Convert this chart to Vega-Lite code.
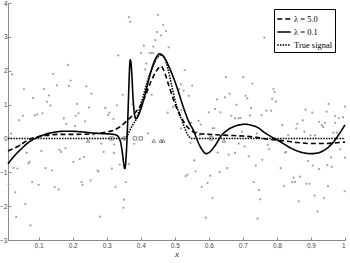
{
  "$schema": "https://vega.github.io/schema/vega-lite/v6.json",
  "width": 337,
  "height": 237,
  "autosize": "none",
  "padding": {"left": 8, "top": 3, "right": 5, "bottom": 23},
  "background": "white",
  "config": {"view": {"stroke": null}},
  "datasets": {
    "noisy": [
      {"x":0.022,"y":1.89},{"x":0.043,"y":0.54},{"x":0.054,"y":0.67},{"x":0.057,"y":1.46},{"x":0.084,"y":1.19},{"x":0.089,"y":0.68},{"x":0.096,"y":0.71},{"x":0.111,"y":0.74},{"x":0.116,"y":1.46},{"x":0.124,"y":1.08},{"x":0.130,"y":1.27},{"x":0.135,"y":0.97},{"x":0.143,"y":1.91},{"x":0.154,"y":1.57},{"x":0.174,"y":0.59},{"x":0.186,"y":2.17},{"x":0.189,"y":1.55},{"x":0.194,"y":1.71},{"x":0.181,"y":0.43},{"x":0.207,"y":0.37},{"x":0.209,"y":0.67},{"x":0.213,"y":1.02},{"x":0.217,"y":0.74},{"x":0.240,"y":1.54},{"x":0.248,"y":0.91},{"x":0.255,"y":1.32},{"x":0.236,"y":0.50},
      {"x":0.019,"y":0.14},{"x":0.127,"y":0.07},{"x":0.046,"y":-0.18},{"x":0.065,"y":-0.43},{"x":0.108,"y":-0.37},{"x":0.161,"y":-0.34},{"x":0.166,"y":-0.40},{"x":0.179,"y":-0.29},{"x":0.070,"y":-0.74},{"x":0.073,"y":-0.69},{"x":0.026,"y":-0.87},{"x":0.038,"y":-0.89},{"x":0.120,"y":-0.88},{"x":0.139,"y":-0.94},{"x":0.202,"y":-0.69},{"x":0.221,"y":-0.61},{"x":0.233,"y":-0.55},{"x":0.012,"y":-1.36},{"x":0.081,"y":-1.29},{"x":0.100,"y":-1.37},{"x":0.147,"y":-1.44},{"x":0.159,"y":-1.51},{"x":0.226,"y":-1.29},{"x":0.229,"y":-1.37},{"x":0.253,"y":-1.24},{"x":0.031,"y":-1.59},{"x":0.061,"y":-1.93},{"x":0.034,"y":-2.32},{"x":0.076,"y":-2.57},
      {"x":0.261,"y":0.11},{"x":0.273,"y":-0.95},{"x":0.276,"y":-0.98},{"x":0.280,"y":-2.31},{"x":0.291,"y":-0.40},{"x":0.284,"y":-0.15},{"x":0.296,"y":0.90},{"x":0.304,"y":0.69},{"x":0.308,"y":0.76},{"x":0.320,"y":0.58},{"x":0.330,"y":0.98},{"x":0.334,"y":2.45},{"x":0.347,"y":1.29},{"x":0.365,"y":3.58},{"x":0.369,"y":3.44},{"x":0.376,"y":1.01},{"x":0.315,"y":-0.89},{"x":0.322,"y":-0.18},{"x":0.321,"y":-0.43},{"x":0.326,"y":-1.43},{"x":0.338,"y":-0.77},{"x":0.351,"y":-1.81},{"x":0.349,"y":-2.05},{"x":0.356,"y":-1.29},{"x":0.365,"y":-0.76},{"x":0.381,"y":-0.16},{"x":0.421,"y":0.15},
      {"x":0.401,"y":2.52},{"x":0.409,"y":2.74},{"x":0.413,"y":2.04},{"x":0.416,"y":2.21},{"x":0.426,"y":2.52},{"x":0.432,"y":2.52},{"x":0.437,"y":2.52},{"x":0.437,"y":2.71},{"x":0.443,"y":2.90},{"x":0.448,"y":3.14},{"x":0.451,"y":3.65},{"x":0.459,"y":3.04},{"x":0.466,"y":3.35},{"x":0.474,"y":3.17},{"x":0.482,"y":2.69},{"x":0.432,"y":1.29},{"x":0.479,"y":0.76},{"x":0.495,"y":0.93},
      {"x":0.513,"y":1.46},{"x":0.518,"y":1.60},{"x":0.526,"y":1.41},{"x":0.529,"y":2.02},{"x":0.541,"y":1.26},{"x":0.551,"y":1.56},{"x":0.519,"y":0.83},{"x":0.513,"y":0.71},{"x":0.600,"y":0.77},{"x":0.618,"y":0.87},{"x":0.624,"y":1.15},{"x":0.634,"y":0.77},{"x":0.647,"y":1.21},{"x":0.650,"y":1.81},{"x":0.661,"y":1.32},{"x":0.666,"y":0.67},{"x":0.677,"y":0.59},{"x":0.687,"y":0.59},{"x":0.693,"y":0.61},{"x":0.681,"y":0.99},{"x":0.701,"y":1.81},{"x":0.708,"y":1.26},{"x":0.713,"y":1.18},{"x":0.721,"y":0.68},{"x":0.724,"y":0.90},{"x":0.728,"y":1.62},{"x":0.755,"y":0.69},{"x":0.763,"y":2.98},{"x":0.769,"y":0.82},{"x":0.783,"y":0.82},{"x":0.790,"y":1.46},{"x":0.793,"y":1.37},{"x":0.786,"y":1.17},{"x":0.797,"y":1.09},{"x":0.816,"y":0.39},{"x":0.860,"y":0.43},{"x":0.884,"y":0.85},{"x":0.904,"y":0.76},{"x":0.924,"y":0.49},{"x":0.952,"y":1.02},{"x":0.946,"y":0.79},{"x":0.971,"y":0.66},{"x":0.982,"y":0.60},{"x":0.994,"y":0.62},{"x":1.0,"y":0.94},
      {"x":0.548,"y":0.46},{"x":0.570,"y":0.52},{"x":0.576,"y":0.41},{"x":0.611,"y":0.30},{"x":0.616,"y":0.30},{"x":0.518,"y":0.29},{"x":0.565,"y":0.19},{"x":0.546,"y":-0.13},{"x":0.573,"y":0.09},{"x":0.697,"y":0.20},{"x":0.741,"y":0.15},{"x":0.688,"y":-0.15},{"x":0.705,"y":-0.24},{"x":0.626,"y":-0.42},{"x":0.658,"y":-0.48},{"x":0.677,"y":-0.43},{"x":0.717,"y":-0.53},{"x":0.557,"y":-0.65},{"x":0.654,"y":-0.88},{"x":0.632,"y":-0.99},{"x":0.738,"y":-0.80},{"x":0.757,"y":-0.63},{"x":0.532,"y":-1.11},{"x":0.537,"y":-1.07},{"x":0.561,"y":-0.97},{"x":0.604,"y":-1.10},{"x":0.596,"y":-1.31},{"x":0.579,"y":-1.43},{"x":0.732,"y":-1.29},{"x":0.747,"y":-1.52},{"x":0.751,"y":-1.80},{"x":0.611,"y":-1.76},{"x":0.591,"y":-2.34},{"x":0.743,"y":-2.37},
      {"x":0.857,"y":0.30},{"x":0.876,"y":0.53},{"x":0.881,"y":0.20},{"x":0.932,"y":0.39},{"x":0.941,"y":0.46},{"x":0.936,"y":0.34},{"x":0.971,"y":0.46},{"x":0.966,"y":0.17},{"x":0.976,"y":0.17},{"x":0.899,"y":0.09},{"x":0.912,"y":0.09},{"x":0.833,"y":0.10},{"x":0.773,"y":-0.19},{"x":0.777,"y":-0.32},{"x":0.827,"y":-0.40},{"x":0.824,"y":-0.42},{"x":0.986,"y":-0.32},{"x":0.892,"y":-0.67},{"x":0.959,"y":-0.56},{"x":0.948,"y":-0.79},{"x":0.961,"y":-0.84},{"x":1.0,"y":-0.57},{"x":0.905,"y":-0.80},{"x":0.924,"y":-0.91},{"x":0.811,"y":-0.88},{"x":0.849,"y":-1.16},{"x":0.868,"y":-1.13},{"x":0.845,"y":-1.29},{"x":0.853,"y":-1.29},{"x":0.886,"y":-1.34},{"x":0.895,"y":-1.34},{"x":0.821,"y":-1.40},{"x":0.950,"y":-1.41},{"x":0.999,"y":-1.56},{"x":0.911,"y":-1.69},{"x":0.938,"y":-1.76},{"x":0.864,"y":-1.86},{"x":0.919,"y":-2.16}
    ],
    "curves": [
      {"s":"λ = 5.0","x":0.01,"y":-0.37},{"s":"λ = 5.0","x":0.04,"y":-0.23},{"s":"λ = 5.0","x":0.07,"y":-0.04},{"s":"λ = 5.0","x":0.11,"y":0.07},{"s":"λ = 5.0","x":0.16,"y":0.12},{"s":"λ = 5.0","x":0.21,"y":0.12},{"s":"λ = 5.0","x":0.26,"y":0.14},{"s":"λ = 5.0","x":0.30,"y":0.19},{"s":"λ = 5.0","x":0.32,"y":0.24},{"s":"λ = 5.0","x":0.34,"y":0.35},{"s":"λ = 5.0","x":0.355,"y":0.48},{"s":"λ = 5.0","x":0.37,"y":0.62},{"s":"λ = 5.0","x":0.385,"y":0.78},{"s":"λ = 5.0","x":0.40,"y":0.98},{"s":"λ = 5.0","x":0.415,"y":1.30},{"s":"λ = 5.0","x":0.43,"y":1.68},{"s":"λ = 5.0","x":0.445,"y":1.98},{"s":"λ = 5.0","x":0.46,"y":2.13},{"s":"λ = 5.0","x":0.47,"y":1.95},{"s":"λ = 5.0","x":0.48,"y":1.64},{"s":"λ = 5.0","x":0.49,"y":1.33},{"s":"λ = 5.0","x":0.50,"y":1.03},{"s":"λ = 5.0","x":0.51,"y":0.80},{"s":"λ = 5.0","x":0.52,"y":0.60},{"s":"λ = 5.0","x":0.535,"y":0.36},{"s":"λ = 5.0","x":0.55,"y":0.22},{"s":"λ = 5.0","x":0.565,"y":0.15},{"s":"λ = 5.0","x":0.60,"y":0.12},{"s":"λ = 5.0","x":0.66,"y":0.09},{"s":"λ = 5.0","x":0.70,"y":0.07},{"s":"λ = 5.0","x":0.74,"y":0.03},{"s":"λ = 5.0","x":0.78,"y":-0.03},{"s":"λ = 5.0","x":0.82,"y":-0.07},{"s":"λ = 5.0","x":0.86,"y":-0.12},{"s":"λ = 5.0","x":0.90,"y":-0.15},{"s":"λ = 5.0","x":0.94,"y":-0.15},{"s":"λ = 5.0","x":0.97,"y":-0.13},{"s":"λ = 5.0","x":1.0,"y":-0.11},
      {"s":"λ = 0.1","x":0.01,"y":-0.75},{"s":"λ = 0.1","x":0.03,"y":-0.50},{"s":"λ = 0.1","x":0.05,"y":-0.30},{"s":"λ = 0.1","x":0.07,"y":-0.12},{"s":"λ = 0.1","x":0.09,"y":0.0},{"s":"λ = 0.1","x":0.11,"y":0.09},{"s":"λ = 0.1","x":0.13,"y":0.15},{"s":"λ = 0.1","x":0.15,"y":0.19},{"s":"λ = 0.1","x":0.17,"y":0.21},{"s":"λ = 0.1","x":0.20,"y":0.21},{"s":"λ = 0.1","x":0.23,"y":0.19},{"s":"λ = 0.1","x":0.26,"y":0.16},{"s":"λ = 0.1","x":0.29,"y":0.14},{"s":"λ = 0.1","x":0.31,"y":0.13},{"s":"λ = 0.1","x":0.32,"y":0.12},{"s":"λ = 0.1","x":0.33,"y":0.09},{"s":"λ = 0.1","x":0.336,"y":0.02},{"s":"λ = 0.1","x":0.341,"y":-0.12},{"s":"λ = 0.1","x":0.346,"y":-0.42},{"s":"λ = 0.1","x":0.35,"y":-0.75},{"s":"λ = 0.1","x":0.353,"y":-0.89},{"s":"λ = 0.1","x":0.356,"y":-0.70},{"s":"λ = 0.1","x":0.359,"y":-0.15},{"s":"λ = 0.1","x":0.362,"y":0.60},{"s":"λ = 0.1","x":0.365,"y":1.50},{"s":"λ = 0.1","x":0.367,"y":2.05},{"s":"λ = 0.1","x":0.369,"y":2.32},{"s":"λ = 0.1","x":0.371,"y":2.25},{"s":"λ = 0.1","x":0.374,"y":1.85},{"s":"λ = 0.1","x":0.377,"y":1.25},{"s":"λ = 0.1","x":0.380,"y":0.85},{"s":"λ = 0.1","x":0.383,"y":0.64},{"s":"λ = 0.1","x":0.386,"y":0.58},{"s":"λ = 0.1","x":0.39,"y":0.62},{"s":"λ = 0.1","x":0.40,"y":0.86},{"s":"λ = 0.1","x":0.41,"y":1.20},{"s":"λ = 0.1","x":0.42,"y":1.60},{"s":"λ = 0.1","x":0.43,"y":1.98},{"s":"λ = 0.1","x":0.44,"y":2.28},{"s":"λ = 0.1","x":0.45,"y":2.46},{"s":"λ = 0.1","x":0.455,"y":2.50},{"s":"λ = 0.1","x":0.46,"y":2.48},{"s":"λ = 0.1","x":0.47,"y":2.38},{"s":"λ = 0.1","x":0.48,"y":2.18},{"s":"λ = 0.1","x":0.49,"y":1.95},{"s":"λ = 0.1","x":0.50,"y":1.69},{"s":"λ = 0.1","x":0.51,"y":1.40},{"s":"λ = 0.1","x":0.52,"y":1.08},{"s":"λ = 0.1","x":0.53,"y":0.78},{"s":"λ = 0.1","x":0.54,"y":0.52},{"s":"λ = 0.1","x":0.556,"y":0.21},{"s":"λ = 0.1","x":0.568,"y":-0.10},{"s":"λ = 0.1","x":0.58,"y":-0.33},{"s":"λ = 0.1","x":0.592,"y":-0.45},{"s":"λ = 0.1","x":0.60,"y":-0.42},{"s":"λ = 0.1","x":0.617,"y":-0.23},{"s":"λ = 0.1","x":0.636,"y":0.07},{"s":"λ = 0.1","x":0.655,"y":0.25},{"s":"λ = 0.1","x":0.671,"y":0.34},{"s":"λ = 0.1","x":0.69,"y":0.40},{"s":"λ = 0.1","x":0.705,"y":0.42},{"s":"λ = 0.1","x":0.725,"y":0.39},{"s":"λ = 0.1","x":0.744,"y":0.32},{"s":"λ = 0.1","x":0.76,"y":0.20},{"s":"λ = 0.1","x":0.78,"y":0.07},{"s":"λ = 0.1","x":0.80,"y":-0.04},{"s":"λ = 0.1","x":0.82,"y":-0.16},{"s":"λ = 0.1","x":0.84,"y":-0.28},{"s":"λ = 0.1","x":0.86,"y":-0.37},{"s":"λ = 0.1","x":0.876,"y":-0.42},{"s":"λ = 0.1","x":0.90,"y":-0.45},{"s":"λ = 0.1","x":0.92,"y":-0.43},{"s":"λ = 0.1","x":0.935,"y":-0.37},{"s":"λ = 0.1","x":0.95,"y":-0.27},{"s":"λ = 0.1","x":0.965,"y":-0.12},{"s":"λ = 0.1","x":0.984,"y":0.15},{"s":"λ = 0.1","x":1.0,"y":0.40},
      {"s":"True signal","x":0.01,"y":0},{"s":"True signal","x":0.355,"y":0},{"s":"True signal","x":0.365,"y":0.18},{"s":"True signal","x":0.375,"y":0.38},{"s":"True signal","x":0.388,"y":0.60},{"s":"True signal","x":0.40,"y":1.00},{"s":"True signal","x":0.41,"y":1.35},{"s":"True signal","x":0.42,"y":1.70},{"s":"True signal","x":0.435,"y":2.10},{"s":"True signal","x":0.45,"y":2.40},{"s":"True signal","x":0.46,"y":2.47},{"s":"True signal","x":0.47,"y":2.38},{"s":"True signal","x":0.48,"y":2.05},{"s":"True signal","x":0.49,"y":1.60},{"s":"True signal","x":0.50,"y":1.15},{"s":"True signal","x":0.51,"y":0.82},{"s":"True signal","x":0.52,"y":0.55},{"s":"True signal","x":0.53,"y":0.28},{"s":"True signal","x":0.54,"y":0.08},{"s":"True signal","x":0.55,"y":0},{"s":"True signal","x":1.0,"y":0}
    ],
    "marks": [
      {"kind":"sq","x":0.314,"y":0},{"kind":"sq","x":0.354,"y":0},{"kind":"sq","x":0.383,"y":0},{"kind":"sq","x":0.400,"y":0},{"kind":"sq","x":0.607,"y":0},
      {"kind":"tri","x":0.245,"y":-0.07},{"kind":"tri","x":0.438,"y":-0.07},{"kind":"tri","x":0.459,"y":-0.07},{"kind":"tri","x":0.466,"y":-0.07},{"kind":"tri","x":0.644,"y":-0.07}
    ]
  },
  "encoding": {
    "x": {"field": "x", "type": "quantitative",
      "scale": {"domain": [0.01, 1], "nice": false, "zero": false},
      "axis": {"values": [0.1,0.2,0.3,0.4,0.5,0.6,0.7,0.8,0.9,1], "format": "~g", "grid": false,
        "title": "x", "titleFont": "Liberation Serif", "titleFontStyle": "italic", "titleFontWeight": "normal", "titleFontSize": 9, "titleColor": "#222", "titlePadding": 1,
        "domainColor": "#8a8a8a", "tickColor": "#8a8a8a", "tickSize": -3, "labelPadding": 5,
        "labelFont": "Liberation Sans", "labelFontSize": 6.5, "labelColor": "#444"}},
    "y": {"field": "y", "type": "quantitative",
      "scale": {"domain": [-3, 4], "nice": false, "zero": false},
      "axis": {"values": [-3,-2,-1,0,1,2,3,4], "grid": false, "title": null,
        "domainColor": "#8a8a8a", "tickColor": "#8a8a8a", "tickSize": -3, "labelPadding": 4,
        "labelFont": "Liberation Sans", "labelFontSize": 6.5, "labelColor": "#444"}}
  },
  "layer": [
    {"data": {"name": "noisy"}, "mark": {"type": "point", "filled": true, "size": 5, "color": "#a3a3a3", "opacity": 1}},
    {"data": {"name": "curves"}, "mark": {"type": "line", "color": "black", "strokeWidth": 1.6, "interpolate": "monotone"},
      "encoding": {
        "detail": {"field": "s"},
        "strokeDash": {"field": "s", "type": "nominal",
          "scale": {"domain": ["λ = 5.0", "λ = 0.1", "True signal"], "range": [[5, 3], [1, 0], [1.5, 1.2]]},
          "legend": {"title": null, "orient": "none", "legendX": 266, "legendY": 6,
            "symbolType": "stroke", "symbolStrokeColor": "black", "symbolStrokeWidth": 1.6, "symbolSize": 180,
            "labelFont": "Liberation Serif", "labelFontSize": 8.5, "labelColor": "black", "labelOffset": 2,
            "strokeColor": "black", "fillColor": "white", "padding": 2, "rowPadding": -3, "cornerRadius": 0}}
      }},
    {"data": {"name": "marks"}, "mark": {"type": "point", "filled": false, "size": 12, "color": "#333", "strokeWidth": 0.8},
      "encoding": {"shape": {"field": "kind", "type": "nominal", "scale": {"domain": ["sq", "tri"], "range": ["square", "triangle-up"]}, "legend": null}}}
  ]
}
